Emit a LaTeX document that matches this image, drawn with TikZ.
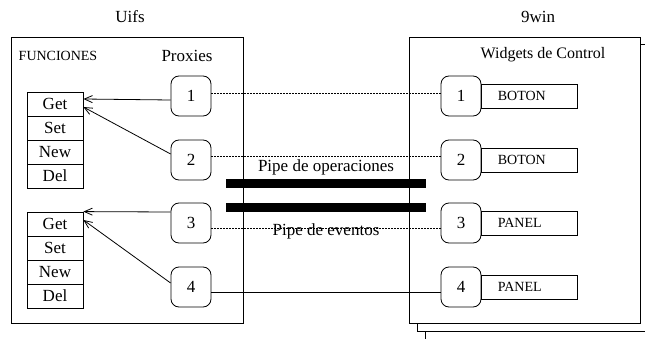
\documentclass[tikz,border=0pt]{standalone}
\usepackage{fontspec}
\setmainfont{Liberation Serif}
\usetikzlibrary{arrows.meta}
\begin{document}
\begin{tikzpicture}[x=1pt,y=1pt,line width=0.8pt,
  big/.style={font=\fontsize{17}{20}\selectfont},
  small/.style={font=\fontsize{14}{16}\selectfont},
  proxy/.style={draw,rounded corners=8pt,minimum width=40pt,minimum height=40pt,inner sep=0pt,big},
  func/.style={draw,minimum width=56pt,minimum height=24pt,inner sep=0pt,big},
  widget/.style={draw,minimum height=24pt,text width=64pt,inner xsep=16pt,inner ysep=0pt,align=left,small,anchor=west},
  link/.style={dash pattern=on 2pt off 1pt},
  call/.style={-{Straight Barb[length=8pt,width=7pt]}},
  pipe/.style={line width=9pt}
]
\clip (0,0) rectangle (645,338);

% titles
\node[big] (uifs) at (130,321) {Uifs};
\node[big] (win) at (538,321) {9win};

% Uifs container
\draw (11,15) rectangle (243,301);
\node[small] (funcs) at (58,282) {FUNCIONES};
\node[big] (prox) at (187,282) {Proxies};

% 9win container, stacked
\draw[fill=white] (425,-10) rectangle (665,287);
\draw[fill=white] (417,7) rectangle (655,294);
\draw[fill=white] (409,15) rectangle (640,301);
\node[font=\fontsize{16}{19}\selectfont] (wdg) at (543,283) {Widgets de Control};

% function tables
\node[func] (get1) at (55,234) {Get};
\node[func] (set1) at (55,210) {Set};
\node[func] (new1) at (55,186) {New};
\node[func] (del1) at (55,162) {Del};
\node[func] (get2) at (55,114) {Get};
\node[func] (set2) at (55,90) {Set};
\node[func] (new2) at (55,66) {New};
\node[func] (del2) at (55,42) {Del};

% proxies
\node[proxy] (p1) at (191,242) {1};
\node[proxy] (p2) at (191,178) {2};
\node[proxy] (p3) at (191,115) {3};
\node[proxy] (p4) at (191,51) {4};

% control widgets
\node[proxy] (r1) at (461,242) {1};
\node[proxy] (r2) at (461,178) {2};
\node[proxy] (r3) at (461,115) {3};
\node[proxy] (r4) at (461,51) {4};
\node[widget] (w1) at (r1.east) {BOTON};
\node[widget] (w2) at (r2.east) {BOTON};
\node[widget] (w3) at (r3.east) {PANEL};
\node[widget] (w4) at (r4.east) {PANEL};

% proxy to widget links
\draw[link] ([yshift=3pt]p1.east) -- ([yshift=3pt]r1.west);
\draw[link] ([yshift=4pt]p2.east) -- ([yshift=4pt]r2.west);
\draw[link] ([yshift=-5pt]p3.east) -- ([yshift=-5pt]r3.west);
\draw ([yshift=-5pt]p4.east) -- ([yshift=-5pt]r4.west);

% calls into the function tables
\draw[call] ([yshift=-4pt]p1.west) -- ([yshift=5pt]get1.east);
\draw[call] ([yshift=6pt]p2.west) -- ([yshift=-3pt]get1.east);
\draw[call] ([yshift=11pt]p3.west) -- (get2.north east);
\draw[call] ([yshift=4pt]p4.west) -- ([yshift=4pt]get2.east);

% pipes
\draw[pipe] (226,154.5) -- (426,154.5);
\draw[pipe] (226,130.5) -- (426,130.5);
\node[big] (pops) at (326,171) {Pipe de operaciones};
\node[big] (pevs) at (326,107) {Pipe de eventos};
\end{tikzpicture}
\end{document}
